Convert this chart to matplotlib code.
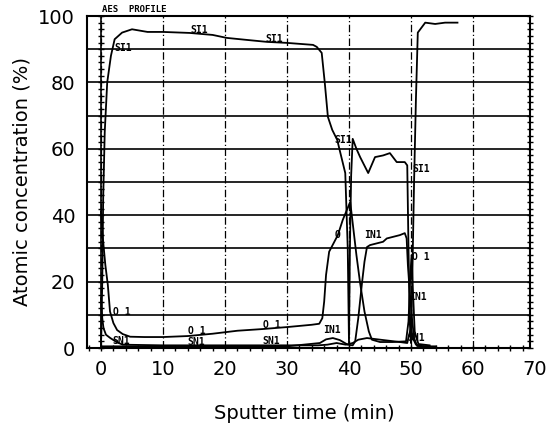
"""AES depth profile: atomic concentration of Si, O, In and Sn versus sputter time."""
import matplotlib
matplotlib.use("Agg")
import matplotlib.pyplot as plt
from matplotlib.ticker import MultipleLocator

# --- profile data (sputter time in min, concentration in at.%) ---
si_t = [0.0, 0.2, 0.35, 0.6, 1.0, 1.6, 2.2, 3.4, 5.0, 7.5, 10.0, 14.3, 18.0,
        20.3, 23.5, 26.8, 30.0, 34.2, 34.8, 35.6, 36.1, 36.6, 37.3, 38.1,
        38.5, 39.4, 39.8, 40.0, 40.15, 40.35, 40.6, 41.2, 41.8, 43.1, 44.2,
        45.5, 46.6, 47.7, 49.0, 49.4, 49.6, 49.8, 50.0, 50.2, 50.5, 50.8,
        51.1, 52.3, 53.9, 55.5, 57.5]
si_c = [1.0, 20.0, 45.0, 65.0, 80.0, 88.0, 93.0, 95.0, 96.0, 95.2, 95.2, 94.9,
        94.3, 93.4, 92.8, 92.2, 91.9, 91.3, 90.7, 88.9, 79.8, 69.6, 65.7, 62.7,
        59.6, 52.7, 30.0, 1.5, 30.0, 52.0, 63.0, 60.0, 57.5, 52.7, 57.5,
        58.0, 58.7, 56.0, 56.0, 55.0, 30.0, 8.0, 1.5, 20.0, 50.0, 75.0,
        95.0, 98.0, 97.6, 98.0, 98.0]

o_t = [0.0, 0.3, 0.7, 1.1, 1.45, 2.0, 2.6, 3.5, 4.7, 7.0, 10.0, 14.0, 18.0,
       22.0, 26.0, 30.0, 34.0, 35.2, 35.7, 36.0, 36.3, 36.8, 37.5, 38.2,
       39.0, 40.2, 40.7, 41.2, 41.8, 42.5, 43.2, 43.7, 45.0, 47.0, 49.2,
       49.6, 49.9, 50.1, 50.3, 50.6, 51.2, 53.0]
o_c = [41.0, 33.0, 25.0, 19.0, 11.0, 7.5, 5.4, 4.2, 3.4, 3.3, 3.3, 3.6, 4.3,
       5.2, 5.7, 6.3, 7.0, 7.3, 9.0, 14.0, 22.0, 29.0, 31.5, 34.0,
       38.6, 44.0, 36.0, 28.0, 19.5, 11.0, 5.0, 2.5, 1.8, 1.8, 2.0,
       8.0, 22.0, 28.0, 18.0, 5.0, 1.2, 0.8]

in_t = [0.0, 10.0, 20.0, 30.0, 35.3, 36.3, 37.4, 38.5, 39.8, 40.6, 41.0,
        41.5, 42.1, 42.5, 42.9, 43.4, 45.5, 46.1, 48.2, 49.0, 49.3, 49.5,
        49.8, 50.1, 50.5, 51.0, 53.0]
in_c = [0.5, 0.5, 0.5, 0.5, 1.5, 2.6, 3.0, 2.4, 1.0, 0.8, 2.0,
        9.0, 19.6, 26.0, 30.4, 31.0, 32.0, 33.0, 34.0, 34.6, 33.0, 25.0,
        17.0, 10.0, 3.0, 0.6, 0.5]

sn_t = [0.0, 0.2, 0.4, 0.8, 1.5, 2.5, 3.5, 10.0, 20.0, 30.0, 35.0, 36.5,
        38.0, 39.5, 40.6, 41.5, 42.9, 45.5, 48.2, 49.4, 49.7, 50.0, 50.3,
        50.8, 52.0, 54.0]
sn_c = [15.0, 9.0, 6.0, 4.0, 3.0, 1.8, 1.0, 0.8, 0.8, 0.8, 0.8, 1.0,
        1.5, 1.0, 1.5, 2.5, 3.0, 2.4, 1.8, 1.5, 4.0, 6.0, 3.0,
        1.0, 0.5, 0.5]

# curve annotations as written by the instrument: (text, time, conc.)
curve_labels = [
    ("SI1", 3.5, 90.4), ("SI1", 15.8, 95.9), ("SI1", 27.9, 93.2),
    ("SI1", 39.0, 62.7), ("SI1", 51.6, 54.0),
    ("O 1", 3.3, 10.8), ("O 1", 15.4, 5.2), ("O 1", 27.5, 7.0),
    ("O", 38.2, 34.0), ("O 1", 51.6, 27.4),
    ("SN1", 3.3, 2.1), ("SN1", 15.4, 1.9), ("SN1", 27.5, 2.1),
    ("SN1", 50.9, 3.0),
    ("IN1", 37.3, 5.4), ("IN1", 43.9, 34.0), ("IN1", 51.1, 15.4),
]

x_ticks = [0, 10, 20, 30, 40, 50, 60, 70]
y_ticks = [0, 20, 40, 60, 80, 100]

fig = plt.figure(figsize=(5.53, 4.24), dpi=100)
fig.patch.set_facecolor("white")
ax = fig.add_axes((87 / 553, 76 / 424, 443 / 553, 332 / 424))
ax.set_xlim(-2.26, 69.2)
ax.set_ylim(0, 100)

# instrument grid: solid horizontals every 10 %, broken verticals every 10 min
ax.set_xticks(range(0, 61, 10))
ax.set_yticks(range(0, 101, 10))
ax.grid(axis="y", color="black", lw=1.2, ls="-")
ax.grid(axis="x", color="black", lw=0.9, ls=(0, (6, 2, 1, 2)))
ax.set_axisbelow(True)

for t, c in [(si_t, si_c), (o_t, o_c), (in_t, in_c), (sn_t, sn_c)]:
    ax.plot(t, c, color="black", lw=1.3, zorder=3)

for text, t, c in curve_labels:
    ax.text(t, c, text, fontsize=7, family="DejaVu Sans Mono",
            fontweight="bold", ha="center", va="center", zorder=4)

ax.text(0.2, 100.6, "AES  PROFILE", fontsize=6.5, family="DejaVu Sans Mono",
        fontweight="bold", ha="left", va="bottom")

# frame and tick marks
for sp in ax.spines.values():
    sp.set_linewidth(1.5)
ax.xaxis.set_minor_locator(MultipleLocator(2))
ax.yaxis.set_minor_locator(MultipleLocator(2))
ax.tick_params(axis="x", which="both", bottom=True, top=False,
               labelbottom=False, direction="inout", length=4, width=1)
ax.tick_params(axis="y", which="both", left=False, right=True,
               direction="inout", length=5, width=1, labelsize=14, pad=6)
ax.set_yticklabels([str(v) if v in y_ticks else "" for v in range(0, 101, 10)])

# inner axis at t = 0 carrying the concentration ticks
inner = ax.secondary_yaxis(0, transform=ax.transData)
inner.spines["left"].set_linewidth(1.2)
inner.set_yticks(range(0, 101, 10))
inner.yaxis.set_minor_locator(MultipleLocator(2))
inner.tick_params(which="both", direction="inout", length=5, width=1,
                  labelleft=False)

for v in x_ticks:
    ax.text(v, -0.065, str(v), transform=ax.get_xaxis_transform(),
            ha="center", va="center", fontsize=14, clip_on=False)

ax.set_xlabel("Sputter time (min)", fontsize=14)
ax.xaxis.set_label_coords(0.49, -0.17)
ax.set_ylabel("Atomic concentration (%)", fontsize=14)
ax.yaxis.set_label_coords(-0.125, 0.503)

fig.savefig("out.png", dpi=100, facecolor="white")
